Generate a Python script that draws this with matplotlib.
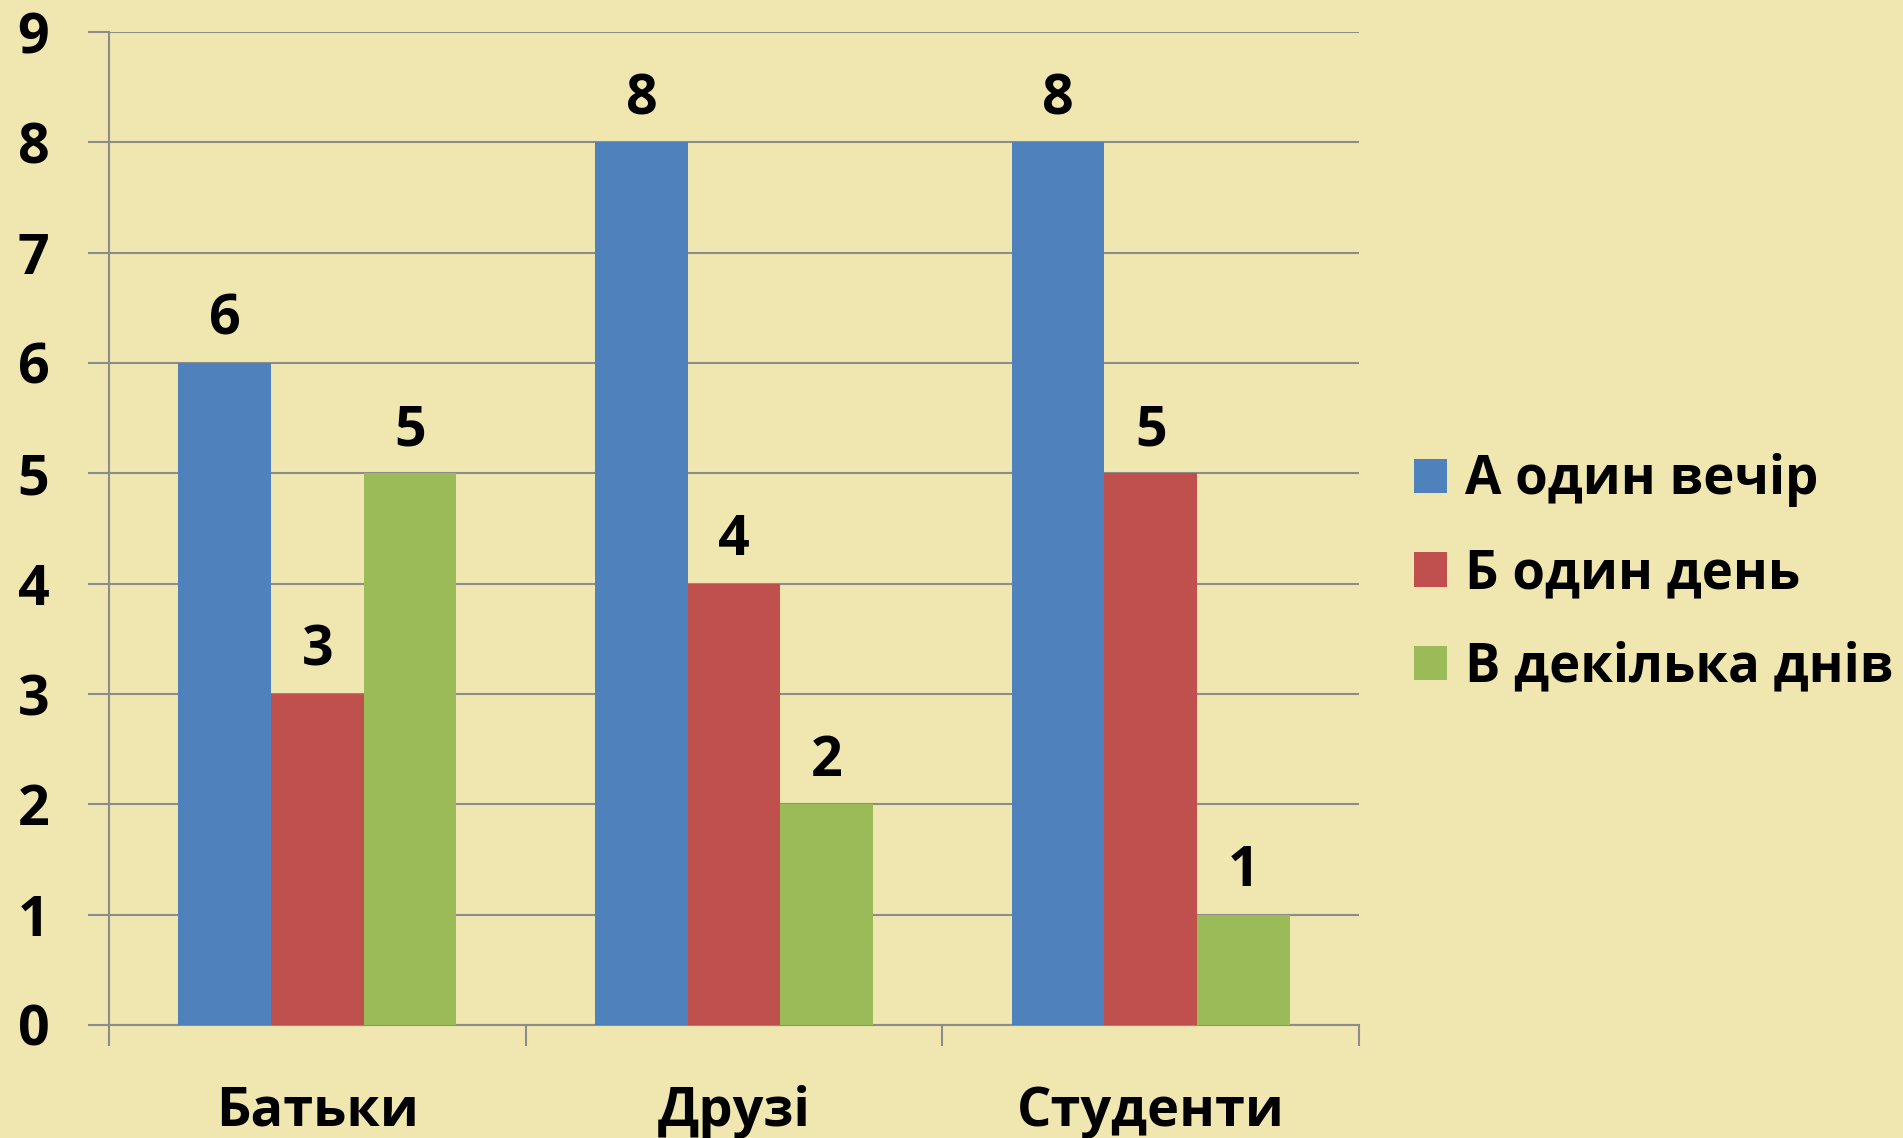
import numpy as np
import matplotlib
matplotlib.use("Agg")
import matplotlib.pyplot as plt
from matplotlib.patches import Patch

# data
categories = ["Батьки", "Друзі", "Студенти"]
series_names = ["А один вечір", "Б один день", "В декілька днів"]
evening = [6, 8, 8]
one_day = [3, 4, 5]
few_days = [5, 2, 1]

colors = ["#4F81BD", "#C0504D", "#9BBB59"]
bg = "#F0E7B0"
grid_col = "#8C8C8C"

plt.rcParams["font.family"] = ["Open Sans", "DejaVu Sans"]
plt.rcParams["font.weight"] = "bold"

fig = plt.figure(figsize=(19.03, 11.38), dpi=100, facecolor=bg)
ax = fig.add_axes([109 / 1903, 113 / 1138, 1250 / 1903, 993 / 1138])
ax.set_facecolor(bg)

x = np.arange(len(categories))
w = 1 / 4.5
for k, vals in enumerate([evening, one_day, few_days]):
    bars = ax.bar(x + (k - 1) * w, vals, width=w, color=colors[k], zorder=3)
    ax.bar_label(bars, padding=11, fontsize=40, fontweight="bold")

ax.set_xlim(-0.5, 2.5)
ax.set_ylim(0, 9)
ax.set_yticks(range(10))
ax.set_xticks([-0.5, 0.5, 1.5, 2.5])
ax.set_xticklabels([])
ax.set_xticks(x, minor=True)
ax.set_xticklabels(categories, minor=True)
ax.tick_params(axis="x", which="minor", length=0, pad=43, labelsize=39)
ax.tick_params(axis="x", which="major", length=15, width=1.5, color=grid_col)
ax.tick_params(axis="y", length=15, width=1.5, color=grid_col, pad=28, labelsize=40)

ax.grid(axis="y", color=grid_col, linewidth=1.5, zorder=0)
for s in ["top", "right"]:
    ax.spines[s].set_visible(False)
for s in ["left", "bottom"]:
    ax.spines[s].set_color(grid_col)
    ax.spines[s].set_linewidth(1.5)

handles = [Patch(facecolor=c) for c in colors]
fig.legend(handles, series_names, loc="center left",
           bbox_to_anchor=(1414 / 1903, 1 - 574 / 1138), frameon=False,
           prop={"weight": "bold", "size": 38},
           handlelength=0.62, handleheight=0.62, handletextpad=0.35,
           labelspacing=0.75, borderpad=0, borderaxespad=0)

fig.savefig("out.png", dpi=100, facecolor=bg)
